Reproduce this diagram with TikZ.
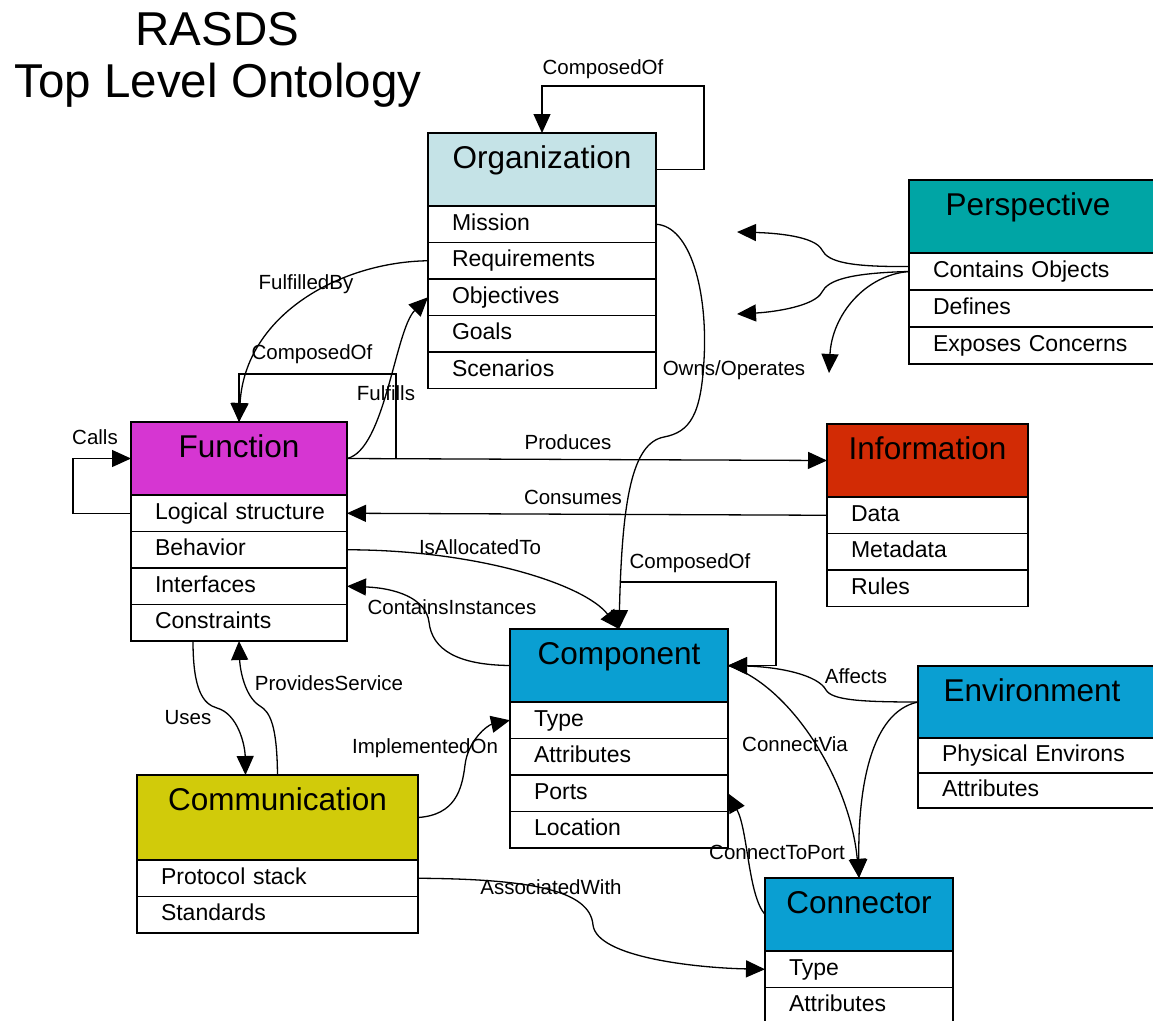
\documentclass[tikz,border=0pt]{standalone}
\usepackage{fontspec}
\setmainfont{Liberation Sans}
\usetikzlibrary{arrows.meta}
\definecolor{orgc}{HTML}{C5E3E7}
\definecolor{perc}{HTML}{00A5A5}
\definecolor{func}{HTML}{D636D2}
\definecolor{infc}{HTML}{D22B05}
\definecolor{cmpc}{HTML}{0A9FD2}
\definecolor{comc}{HTML}{D1CB0A}
\tikzset{
  hdr/.style={draw, line width=1.6pt, anchor=north west, inner sep=0pt, outer sep=0pt, minimum height=73pt,
    text height=23pt, text depth=25pt, font=\fontsize{31.5}{34}\selectfont},
  row/.style={draw, line width=1.6pt, anchor=north west, inner xsep=24pt, inner ysep=0pt, outer sep=0pt,
    minimum height=36.5pt, text height=15pt, text depth=2.6pt, align=left, fill=white,
    font=\fontsize{23}{26}\selectfont},
  link/.style={line width=1.3pt, -{Triangle[length=19pt,width=17pt]}},
  lbl/.style={font=\fontsize{20.5}{23}\selectfont, inner sep=0pt},
  ttl/.style={font=\fontsize{47.5}{50}\selectfont, inner sep=0pt, anchor=base},
}
\begin{document}
\begin{tikzpicture}[x=1pt,y=-1pt]
\useasboundingbox (0,0) rectangle (1153,1020);
\clip (0,0) rectangle (1153,1020);
\fill[white] (0,0) rectangle (1153,1020);

% title
\node[ttl] (t1) at (217.5,45) {RASDS};
\node[ttl] (t2) at (218,97) {Top Level Ontology};

% Organization
\node[hdr, fill=orgc, minimum width=228pt] (org) at (428,133) {Organization};
\node[row, text width=180pt] (orgMis) at (org.south west) {Mission};
\node[row, text width=180pt] (orgReq) at (orgMis.south west) {Requirements};
\node[row, text width=180pt] (orgObj) at (orgReq.south west) {Objectives};
\node[row, text width=180pt] (orgGoa) at (orgObj.south west) {Goals};
\node[row, text width=180pt] (orgSce) at (orgGoa.south west) {Scenarios};

% Perspective
\node[hdr, fill=perc, minimum width=250pt] (persp) at (909,180) {\hspace*{-6pt}Perspective\hspace*{6pt}};
\node[row, text width=202pt, minimum height=37pt] (perCO) at (persp.south west) {Contains Objects};
\node[row, text width=202pt, minimum height=37pt] (perDef) at (perCO.south west) {Defines};
\node[row, text width=202pt, minimum height=37pt] (perExp) at (perDef.south west) {Exposes Concerns};

% Function
\node[hdr, fill=func, minimum width=216pt] (func) at (131,422) {Function};
\node[row, text width=168pt] (funcLog) at (func.south west) {\mbox{Logical structure}};
\node[row, text width=168pt] (funcBeh) at (funcLog.south west) {Behavior};
\node[row, text width=168pt] (funcInt) at (funcBeh.south west) {Interfaces};
\node[row, text width=168pt] (funcCon) at (funcInt.south west) {Constraints};

% Information
\node[hdr, fill=infc, minimum width=201pt] (info) at (827,424) {Information};
\node[row, text width=153pt] (infoData) at (info.south west) {Data};
\node[row, text width=153pt] (infoMeta) at (infoData.south west) {Metadata};
\node[row, text width=153pt] (infoRule) at (infoMeta.south west) {Rules};

% Component
\node[hdr, fill=cmpc, minimum width=218pt] (comp) at (510,629) {Component};
\node[row, text width=170pt] (compType) at (comp.south west) {Type};
\node[row, text width=170pt] (compAttr) at (compType.south west) {Attributes};
\node[row, text width=170pt] (compPorts) at (compAttr.south west) {Ports};
\node[row, text width=170pt] (compLoc) at (compPorts.south west) {Location};

% Environment
\node[hdr, fill=cmpc, minimum width=240pt, minimum height=72pt] (env) at (918,666) {\hspace*{-6pt}Environment\hspace*{6pt}};
\node[row, text width=192pt, minimum height=35pt] (envPhy) at (env.south west) {Physical Environs};
\node[row, text width=192pt, minimum height=35pt] (envAttr) at (envPhy.south west) {Attributes};

% Communication
\node[hdr, fill=comc, minimum width=281pt, minimum height=85pt, text depth=38pt] (comm) at (137,775) {Communication};
\node[row, text width=233pt] (commProt) at (comm.south west) {Protocol stack};
\node[row, text width=233pt] (commStd) at (commProt.south west) {Standards};

% Connector
\node[hdr, fill=cmpc, minimum width=188pt] (conn) at (765,878) {Connector};
\node[row, text width=140pt] (connType) at (conn.south west) {Type};
\node[row, text width=140pt] (connAttr) at (connType.south west) {Attributes};

% ---------- connectors ----------
% Organization ComposedOf
\draw[link] (org.east) -- (704,169.5) -- (704,86) -| (org.north);
\node[lbl] (lOrgComp) at (603,69) {ComposedOf};

% FulfilledBy
\draw[link] (orgReq.west) .. controls (340,262) and (245,315) .. (func.north);
\node[lbl] (lFulBy) at (306,284) {FulfilledBy};

% Function ComposedOf
\draw[link] (func.east) -- (396,458.5) -- (396,374) -| (func.north);
\node[lbl] (lFunComp) at (312,354) {ComposedOf};

% Calls
\draw[link] (funcLog.west) -- (73,513.25) |- (func.west);
\node[lbl] (lCalls) at (95,437) {Calls};

% Fulfills
\draw[link] (func.east) .. controls (385,450) and (395,330) .. (orgObj.west);
\node[lbl] (lFul) at (386,393) {Fulfills};

% Produces
\draw[link] (func.east) -- (info.west);
\node[lbl] (lProd) at (568,442) {Produces};

% Consumes
\draw[link] (infoData.west) -- (funcLog.east);
\node[lbl] (lCons) at (573,497) {Consumes};

% IsAllocatedTo
\draw[link] (funcBeh.east) .. controls (480,550) and (585,585) .. (comp.north);
\node[lbl] (lAlloc) at (480,547) {IsAllocatedTo};

% Owns/Operates
\draw[link] (orgMis.east) .. controls (690,226) and (708,290) .. (704,360)
  .. controls (701,415) and (690,432) .. (664,437)
  .. controls (632,443) and (622,500) .. (comp.north);
\node[lbl] (lOwns) at (734,370) {Owns/Operates};

% Component ComposedOf
\coordinate (compTop) at (619.5,582);
\draw[link] (compTop) -- (776,582) |- (comp.east);
\node[lbl] (lCmpComp) at (690,563) {ComposedOf};

% Affects
\draw[link] (env.west) .. controls (860,702) and (832,700) .. (826,690)
  .. controls (818,675) and (780,667) .. (comp.east);
\node[lbl] (lAff) at (856,676) {Affects};

% ConnectVia
\draw[link] (comp.east) .. controls (790,685) and (850,780) .. (conn.north);
\draw[link] (env.west) .. controls (870,712) and (858,790) .. (conn.north);
\node[lbl] (lVia) at (795,744) {ConnectVia};

% ConnectToPort
\draw[link] (conn.west) .. controls (748,895) and (748,830) .. (compPorts.east);
\node[lbl] (lPort) at (777,852) {ConnectToPort};

% AssociatedWith
\draw[link] (commProt.east) .. controls (530,879) and (590,890) .. (593,925)
  .. controls (597,958) and (700,968) .. (connType.west);
\node[lbl] (lAssoc) at (551,887) {AssociatedWith};

% Uses
\draw[link] ([xshift=-46pt]funcCon.south) .. controls (193,690) and (203,704) .. (217,708)
  .. controls (238,714) and (245,745) .. ([xshift=-32pt]comm.north);
\node[lbl] (lUses) at (188,718) {Uses};

% ProvidesService
\draw[link] (comm.north) .. controls (277,725) and (270,712) .. (260,706)
  .. controls (245,697) and (240,670) .. (funcCon.south);
\node[lbl] (lProv) at (329,683) {ProvidesService};

% ImplementedOn
\draw[link] (comm.east) .. controls (455,815) and (462,790) .. (465,765)
  .. controls (468,740) and (488,725) .. (compType.west);
\node[lbl] (lImpl) at (425,748) {ImplementedOn};

% ContainsInstances
\draw[link] (comp.west) .. controls (458,665) and (432,650) .. (429,622)
  .. controls (426,598) and (395,588) .. (funcInt.east);
\node[lbl] (lCont) at (452,607) {ContainsInstances};

% Perspective arrows
\coordinate (pA) at (737,232);
\coordinate (pB) at (737,314);
\coordinate (pC) at (829,373);
\draw[link] ([yshift=5pt]perCO.west) .. controls (850,267) and (828,262) .. (822,250)
  .. controls (815,236) and (775,233) .. (pA);
\draw[link] (perCO.west) .. controls (850,273) and (828,280) .. (822,292)
  .. controls (815,306) and (775,312) .. (pB);
\draw[link] (perCO.west) .. controls (865,275) and (832,315) .. (pC);
\end{tikzpicture}
\end{document}
